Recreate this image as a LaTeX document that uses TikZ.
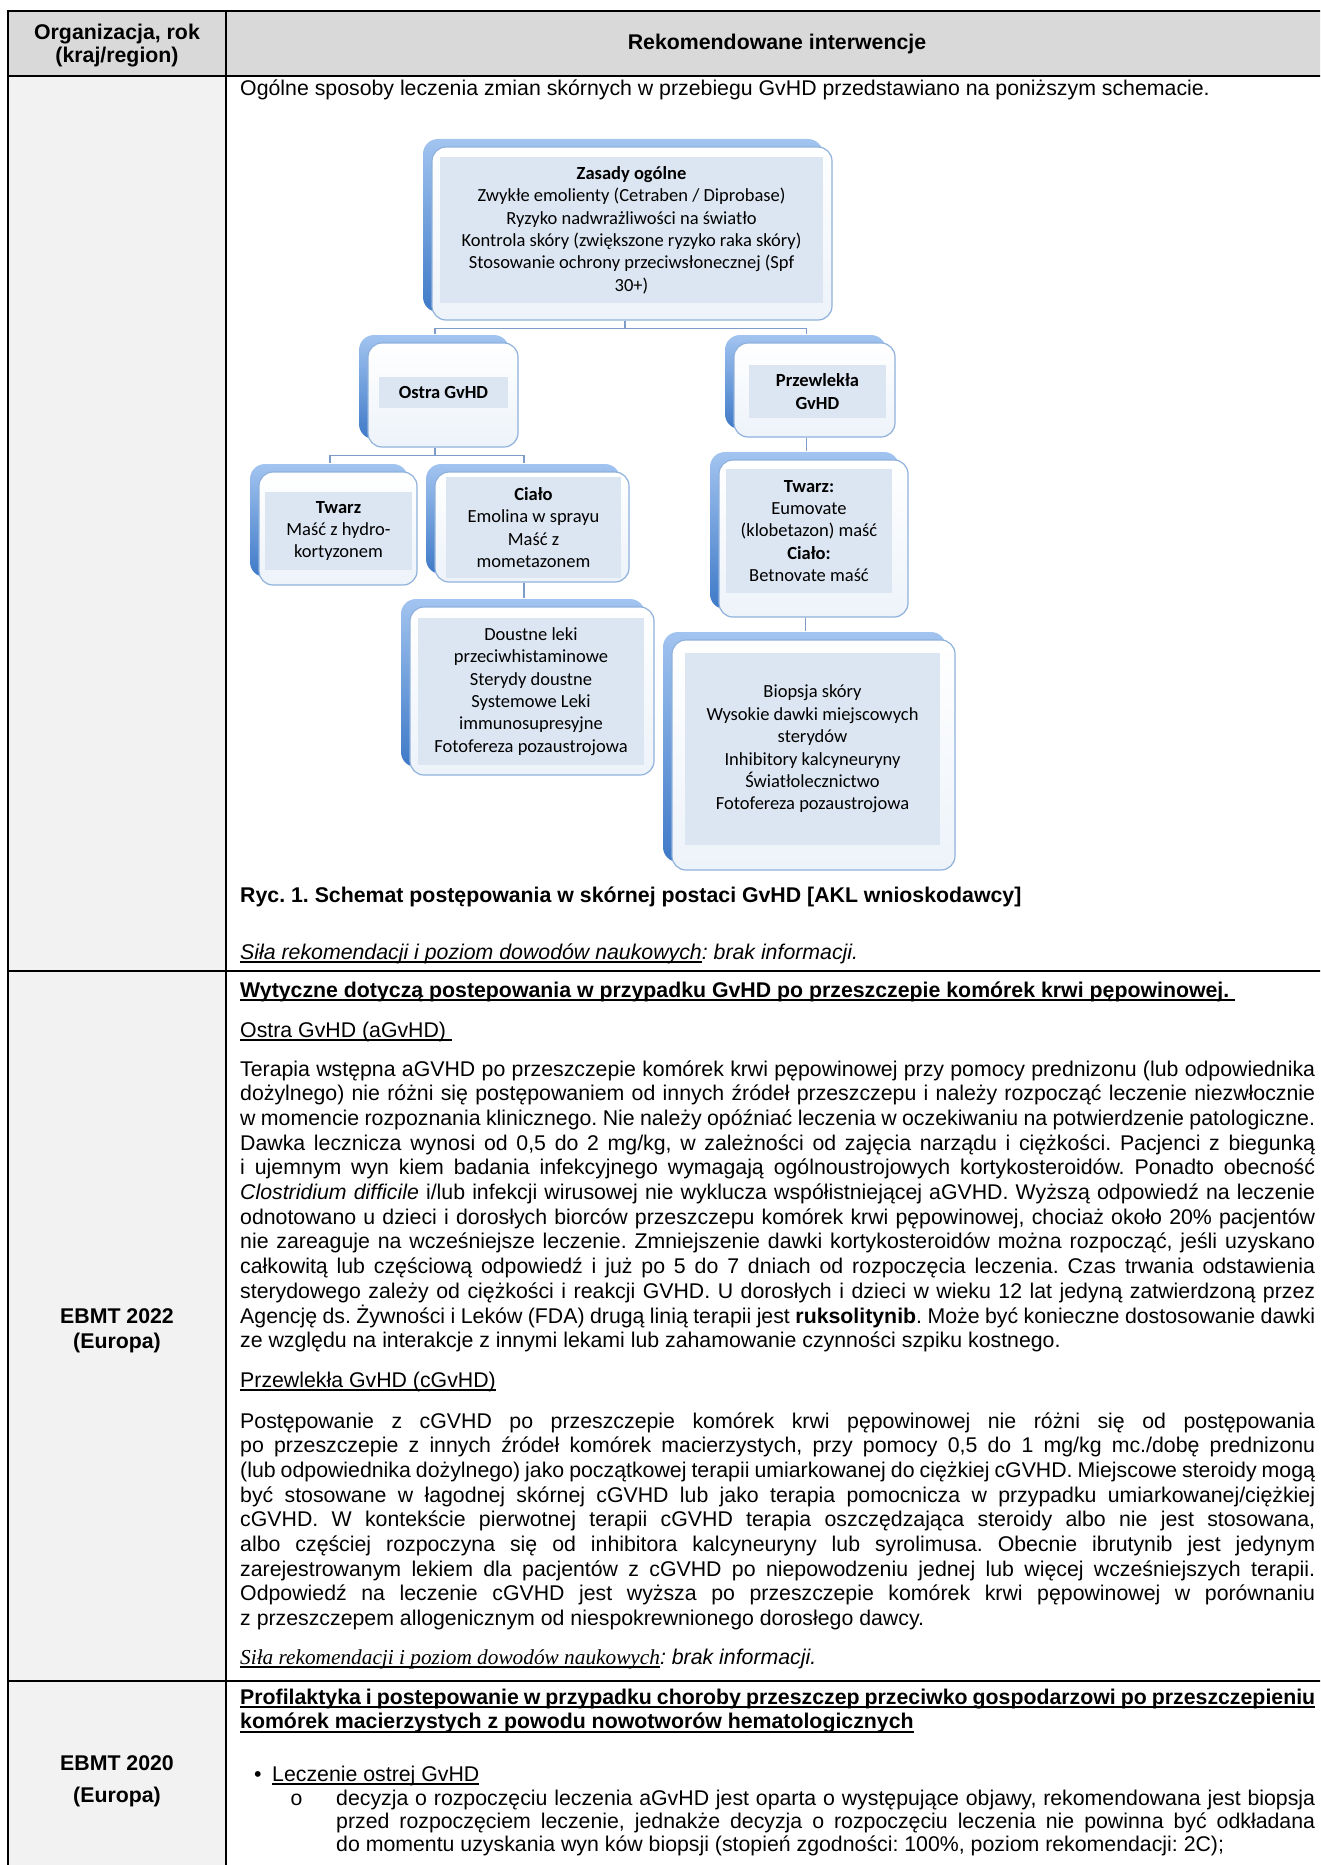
\documentclass[tikz,border=0pt]{standalone}
\usepackage{fontspec}
\setmainfont{Liberation Sans}
\newfontfamily\dgfont{Carlito}
\newfontfamily\serfont{Liberation Serif}
\newfontfamily\monofnt{Liberation Mono}
\frenchspacing
\definecolor{hdrgray}{HTML}{D9D9D9}
\definecolor{colgray}{HTML}{F2F2F2}
\definecolor{shtop}{HTML}{A2C4F0}
\definecolor{shbot}{HTML}{3E79C7}
\definecolor{wline}{HTML}{8FB1DC}
\definecolor{wbot}{HTML}{EDF3FA}
\definecolor{ifill}{HTML}{DCE6F2}
\definecolor{conncol}{HTML}{7E9CC8}
\newcommand\jl[1]{\hbox to \hsize{#1}}
\newcommand\nl[1]{\hbox{#1}}
\newcommand\ulx[1]{\setbox0=\hbox{#1}\leavevmode\rlap{\vrule height -2.4pt depth 3.9pt width \wd0}\box0}
\newcommand\ulj[1]{\hbox to \hsize{\rlap{\vrule height -2.4pt depth 3.9pt width \hsize}#1}}
\newcommand\gvframe[5]{%
  \shade[shadowbox] ({#2-9},{#3-8}) rectangle ({#4-9},{#5-8});
  \node[wbox, irect={#2}{#3}{#4}{#5}] (#1) {};}
\newcommand\bodyfont{\fontsize{21.3}{24.7}\selectfont}
\begin{document}
\begin{tikzpicture}[x=1pt,y=-1pt,
  irect/.style n args={4}{minimum width={((#3)-(#1))*1pt}, minimum height={((#4)-(#2))*1pt}, at={({((#1)+(#3))/2},{((#2)+(#4))/2})}},
  wbox/.style={draw=wline, line width=1.2pt, rounded corners=14pt, top color=white, bottom color=wbot, inner sep=0pt},
  shadowbox/.style={rounded corners=15pt, top color=shtop, bottom color=shbot},
  ibox/.style={fill=ifill, inner sep=0pt, align=center, font=\dgfont\fontsize{18.5}{22.4}\selectfont},
  conn/.style={draw=conncol, line width=1.5pt},
  tline/.style={draw=black, line width=2pt},
  txt/.style={inner sep=0pt, anchor=base west, font=\bodyfont},
  ctr/.style={inner sep=0pt, anchor=base, font=\bfseries\bodyfont}]
\useasboundingbox (0,0) rectangle (1320,1865);
\clip (0,0) rectangle (1320,1865);
% table
\fill[hdrgray] (8,11) rectangle (1330,76);
\fill[colgray] (8,76) rectangle (226,1870);
\draw[tline] (8,11) -- (1330,11);
\draw[tline] (8,76) -- (1330,76);
\draw[tline] (8,971) -- (1330,971);
\draw[tline] (8,1681) -- (1330,1681);
\draw[tline] (8,10) -- (8,1870);
\draw[tline] (226,10) -- (226,1870);
% header
\node[ctr] (h1a) at (117,40) {Organizacja, rok};
\node[ctr] (h1b) at (117,63) {(kraj/region)};
\node[ctr] (h2) at (777,50) {Rekomendowane interwencje};
% row 2
\node[txt] (intro) at (240,96) {Ogólne sposoby leczenia zmian skórnych w przebiegu GvHD przedstawiano na poniższym schemacie.};
% diagram
\gvframe{topW}{432}{147}{832}{320}
\node[ibox, irect={440}{157}{823}{303}] (top) {\textbf{Zasady ogólne}\\Zwykłe emolienty (Cetraben / Diprobase)\\Ryzyko nadwrażliwości na światło\\Kontrola skóry (zwiększone ryzyko raka skóry)\\Stosowanie ochrony przeciwsłonecznej (Spf\\30+)};
\gvframe{ostraW}{368}{343}{518}{447}
\node[ibox, irect={379}{377}{508}{408}] (ostra) {\textbf{Ostra GvHD}};
\gvframe{przW}{734}{343}{895}{437}
\node[ibox, irect={749}{365}{886}{418}] (prz) {\textbf{Przewlekła}\\\textbf{GvHD}};
\gvframe{twlW}{259}{472}{417}{585}
\node[ibox, irect={265}{492}{412}{570}] (twl) {\textbf{Twarz}\\Maść z hydro-\\kortyzonem};
\gvframe{ciaW}{435}{472}{629}{582}
\node[ibox, irect={446}{477}{621}{578}] (cia) {\textbf{Ciało}\\Emolina w sprayu\\Maść z\\mometazonem};
\gvframe{douW}{410}{607}{654}{775}
\node[ibox, irect={418}{618}{644}{765}] (dou) {Doustne leki\\przeciwhistaminowe\\Sterydy doustne\\Systemowe Leki\\immunosupresyjne\\Fotofereza pozaustrojowa};
\gvframe{twrW}{719}{460}{908}{617}
\node[ibox, irect={726}{469}{892}{593}] (twr) {\textbf{Twarz:}\\Eumovate\\(klobetazon) maść\\\textbf{Ciało:}\\Betnovate maść};
\gvframe{bioW}{672}{640}{955}{870}
\node[ibox, irect={685}{653}{940}{845}] (bio) {Biopsja skóry\\Wysokie dawki miejscowych\\sterydów\\Inhibitory kalcyneuryny\\Światłolecznictwo\\Fotofereza pozaustrojowa};
% connectors
\draw[conn] ([xshift=-7pt]topW.south) -- ++(0,8) -| ([xshift=-8pt,yshift=8pt]ostraW.north);
\draw[conn] ([xshift=-7pt]topW.south) -- ++(0,8) -| ([xshift=-8pt,yshift=8pt]przW.north);
\draw[conn] ([xshift=-8pt]ostraW.south) -- ++(0,8) -| ([xshift=-8pt,yshift=8pt]twlW.north);
\draw[conn] ([xshift=-8pt]ostraW.south) -- ++(0,8) -| ([xshift=-8pt,yshift=8pt]ciaW.north);
\draw[conn] ([xshift=-8pt]ciaW.south) -- ([xshift=-8pt,yshift=8pt]ciaW.south |- douW.north);
\draw[conn] ([xshift=-8pt]przW.south) -- ([xshift=-8pt,yshift=8pt]przW.south |- twrW.north);
\draw[conn] ([xshift=-8pt]twrW.south) -- ([xshift=-8pt,yshift=8pt]twrW.south |- bioW.north);
\node[txt, font=\bfseries\bodyfont] (cap) at (240,902) {Ryc. 1. Schemat postępowania w skórnej postaci GvHD [AKL wnioskodawcy]};
\node[txt, font=\itshape\bodyfont] (sila1) at (240,959) {\ulx{Siła rekomendacji i poziom dowodów naukowych}: brak informacji.};
% row 3
\node[ctr] (e22a) at (117,1323) {EBMT 2022};
\node[ctr] (e22b) at (117,1348) {(Europa)};
\node[txt, font=\bfseries\bodyfont] (wyt) at (240,997) {\ulx{Wytyczne dotyczą postepowania w przypadku GvHD po przeszczepie komórek krwi pępowinowej.\ }};
\node[txt] (ostrah) at (240,1037) {\ulx{Ostra GvHD (aGvHD)\ }};
\node[txt] (para1) at (240,1076) {\parbox[t]{1075pt}{%
\jl{Terapia wstępna aGVHD po przeszczepie komórek krwi pępowinowej przy pomocy prednizonu (lub odpowiednika}
\jl{dożylnego) nie różni się postępowaniem od innych źródeł przeszczepu i należy rozpocząć leczenie niezwłocznie}
\jl{w momencie rozpoznania klinicznego. Nie należy opóźniać leczenia w oczekiwaniu na potwierdzenie patologiczne.}
\jl{Dawka lecznicza wynosi od 0,5 do 2 mg/kg, w zależności od zajęcia narządu i ciężkości. Pacjenci z biegunką}
\jl{i ujemnym wyn kiem badania infekcyjnego wymagają ogólnoustrojowych kortykosteroidów. Ponadto obecność}
\jl{\textit{Clostridium difficile} i/lub infekcji wirusowej nie wyklucza współistniejącej aGVHD. Wyższą odpowiedź na leczenie}
\jl{odnotowano u dzieci i dorosłych biorców przeszczepu komórek krwi pępowinowej, chociaż około 20\% pacjentów}
\jl{nie zareaguje na wcześniejsze leczenie. Zmniejszenie dawki kortykosteroidów można rozpocząć, jeśli uzyskano}
\jl{całkowitą lub częściową odpowiedź i już po 5 do 7 dniach od rozpoczęcia leczenia. Czas trwania odstawienia}
\jl{sterydowego zależy od ciężkości i reakcji GVHD. U dorosłych i dzieci w wieku 12 lat jedyną zatwierdzoną przez}
\jl{Agencję ds. Żywności i Leków (FDA) drugą linią terapii jest \textbf{ruksolitynib}. Może być konieczne dostosowanie dawki}
\nl{ze względu na interakcje z innymi lekami lub zahamowanie czynności szpiku kostnego.}}};
\node[txt] (przh) at (240,1387) {\ulx{Przewlekła GvHD (cGvHD)}};
\node[txt] (para2) at (240,1428) {\parbox[t]{1075pt}{%
\jl{Postępowanie z cGVHD po przeszczepie komórek krwi pępowinowej nie różni się od postępowania}
\jl{po przeszczepie z innych źródeł komórek macierzystych, przy pomocy 0,5 do 1 mg/kg mc./dobę prednizonu}
\jl{(lub odpowiednika dożylnego) jako początkowej terapii umiarkowanej do ciężkiej cGVHD. Miejscowe steroidy mogą}
\jl{być stosowane w łagodnej skórnej cGVHD lub jako terapia pomocnicza w przypadku umiarkowanej/ciężkiej}
\jl{cGVHD. W kontekście pierwotnej terapii cGVHD terapia oszczędzająca steroidy albo nie jest stosowana,}
\jl{albo częściej rozpoczyna się od inhibitora kalcyneuryny lub syrolimusa. Obecnie ibrutynib jest jedynym}
\jl{zarejestrowanym lekiem dla pacjentów z cGVHD po niepowodzeniu jednej lub więcej wcześniejszych terapii.}
\jl{Odpowiedź na leczenie cGVHD jest wyższa po przeszczepie komórek krwi pępowinowej w porównaniu}
\nl{z przeszczepem allogenicznym od niespokrewnionego dorosłego dawcy.}}};
\node[txt] (sila2) at (240,1664) {{\serfont\itshape\ulx{Siła rekomendacji i poziom dowodów naukowych}}\textit{: brak informacji.}};
% row 4
\node[ctr] (e20a) at (117,1770) {EBMT 2020};
\node[ctr] (e20b) at (117,1802) {(Europa)};
\node[txt, font=\bfseries\bodyfont] (prof) at (240,1704) {\parbox[t]{1075pt}{%
\ulj{Profilaktyka i postepowanie w przypadku choroby przeszczep przeciwko gospodarzowi po przeszczepieniu}
\nl{\ulx{komórek macierzystych z powodu nowotworów hematologicznych}}}};
\node[txt] (bul1) at (254,1781) {•};
\node[txt] (lecz) at (272,1781) {\ulx{Leczenie ostrej GvHD}};
\node[txt, font=\monofnt\fontsize{21.3}{23}\selectfont] (bul2) at (290,1805) {o};
\node[txt, font=\fontsize{21.3}{23}\selectfont] (para3) at (336,1805) {\parbox[t]{979pt}{%
\jl{decyzja o rozpoczęciu leczenia aGvHD jest oparta o występujące objawy, rekomendowana jest biopsja}
\jl{przed rozpoczęciem leczenie, jednakże decyzja o rozpoczęciu leczenia nie powinna być odkładana}
\nl{do momentu uzyskania wyn ków biopsji (stopień zgodności: 100\%, poziom rekomendacji: 2C);}}};
\end{tikzpicture}
\end{document}
